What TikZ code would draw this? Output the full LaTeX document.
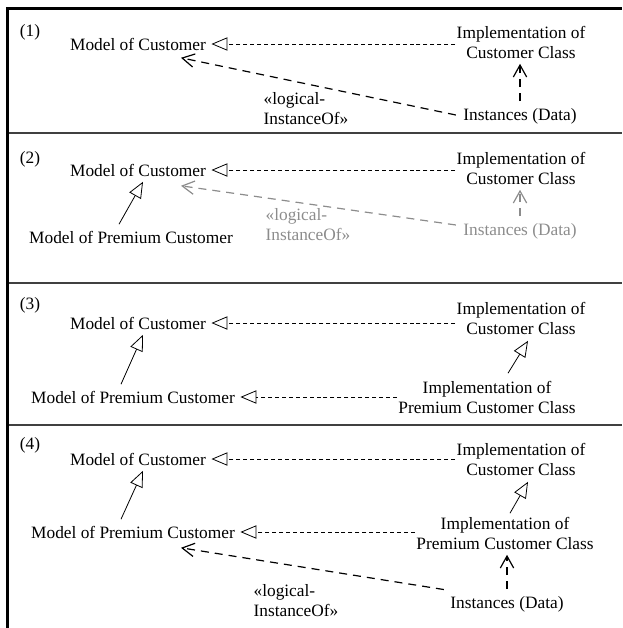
\documentclass[tikz,border=0pt]{standalone}
\usepackage{fontspec}
\setmainfont{Liberation Serif}
\usetikzlibrary{arrows.meta}
\usetikzlibrary{calc}

\tikzset{
  lbl/.style={font=\fontsize{13}{15}\selectfont, inner sep=1pt},
  twoline/.style={lbl, align=center},
  stereo/.style={lbl, align=left, anchor=west},
  gen/.style={line width=0.6pt, -{Triangle[open,length=12pt,width=10pt]}},
  realize/.style={gen, dash pattern=on 3pt off 2.2pt},
  depend/.style={line width=0.9pt, -{Straight Barb[length=9pt,width=10pt]}, dash pattern=on 6pt off 4.5pt},
  faded/.style={black!45},
  panelrule/.style={line width=1.1pt, black!75},
}

\begin{document}
\begin{tikzpicture}[x=0.75pt,y=0.75pt,yscale=-1,xscale=1]
\useasboundingbox (0,0) rectangle (622,628);

%Frame
\draw [line width=2.25pt] (7.5,628) -- (7.5,8.5) -- (622,8.5);
\foreach \y in {133,283,425} {
  \draw [panelrule] (9,\y) -- (622,\y);
}

%Panel (1)
\node [lbl] (num1) at (30,32) {(1)};
\node [lbl] (mc1) at (138,44) {Model of Customer};
\node [twoline] (ic1) at (521,42) {Implementation of\\Customer Class};
\node [lbl] (in1) at (520,116) {Instances (Data)};
\node [stereo] (lg1) at (262,109) {«logical-\\InstanceOf»};
\draw [realize, shorten >=3pt] (ic1.west |- mc1) -- (mc1.east);
\draw [depend, shorten <=4pt, shorten >=3pt] (in1.north) -- (in1.north |- ic1.south);
\draw [depend] ($(in1.west)+(-6,-1)$) -- ($(mc1.south)+(43,6)$);

%Panel (2)
\node [lbl] (num2) at (30,159) {(2)};
\node [lbl] (mc2) at (138,170) {Model of Customer};
\node [twoline] (ic2) at (521,168) {Implementation of\\Customer Class};
\node [lbl] (mp2) at (131,237) {Model of Premium Customer};
\node [lbl, faded] (in2) at (520,231) {Instances (Data)};
\node [stereo, faded] (lg2) at (264,225) {«logical-\\InstanceOf»};
\draw [realize, shorten >=3pt] (ic2.west |- mc2) -- (mc2.east);
\draw [gen] ($(mp2.north)+(-12,-5)$) -- ($(mc2.south)+(5,4)$);
\draw [depend, faded, shorten <=4pt, shorten >=3pt] (in2.north) -- (in2.north |- ic2.south);
\draw [depend, faded] ($(in2.west)+(-6,-6)$) -- ($(mc2.south)+(43,8)$);

%Panel (3)
\node [lbl] (num3) at (30,305) {(3)};
\node [lbl] (mc3) at (138,323) {Model of Customer};
\node [twoline] (ic3) at (521,318) {Implementation of\\Customer Class};
\node [lbl] (mp3) at (133,397) {Model of Premium Customer};
\node [twoline] (ip3) at (487,397) {Implementation of\\Premium Customer Class};
\draw [realize, shorten >=3pt] (ic3.west |- mc3) -- (mc3.east);
\draw [gen] ($(mp3.north)+(-12,-5)$) -- ($(mc3.south)+(5,4)$);
\draw [realize, shorten >=3pt] (ip3.west |- mp3) -- (mp3.east);
\draw [gen] ($(ip3.north)+(21,-6)$) -- ($(ic3.south)+(7,5)$);

%Panel (4)
\node [lbl] (num4) at (30,445) {(4)};
\node [lbl] (mc4) at (138,459) {Model of Customer};
\node [twoline] (ic4) at (521,459) {Implementation of\\Customer Class};
\node [lbl] (mp4) at (133,532) {Model of Premium Customer};
\node [twoline] (ip4) at (505,533) {Implementation of\\Premium Customer Class};
\node [lbl] (in4) at (507,604) {Instances (Data)};
\node [stereo] (lg4) at (252,601) {«logical-\\InstanceOf»};
\draw [realize, shorten >=3pt] (ic4.west |- mc4) -- (mc4.east);
\draw [gen] ($(mp4.north)+(-12,-5)$) -- ($(mc4.south)+(5,4)$);
\draw [realize, shorten >=3pt] (ip4.west |- mp4) -- (mp4.east);
\draw [gen] ($(ip4.north)+(5,-2)$) -- ($(ic4.south)+(7,5)$);
\draw [depend, shorten <=4pt, shorten >=3pt] (in4.north) -- (in4.north |- ip4.south);
\draw [depend] ($(in4.north west)+(-5,-5)$) -- ($(mp4.south)+(48,8)$);

\end{tikzpicture}
\end{document}
